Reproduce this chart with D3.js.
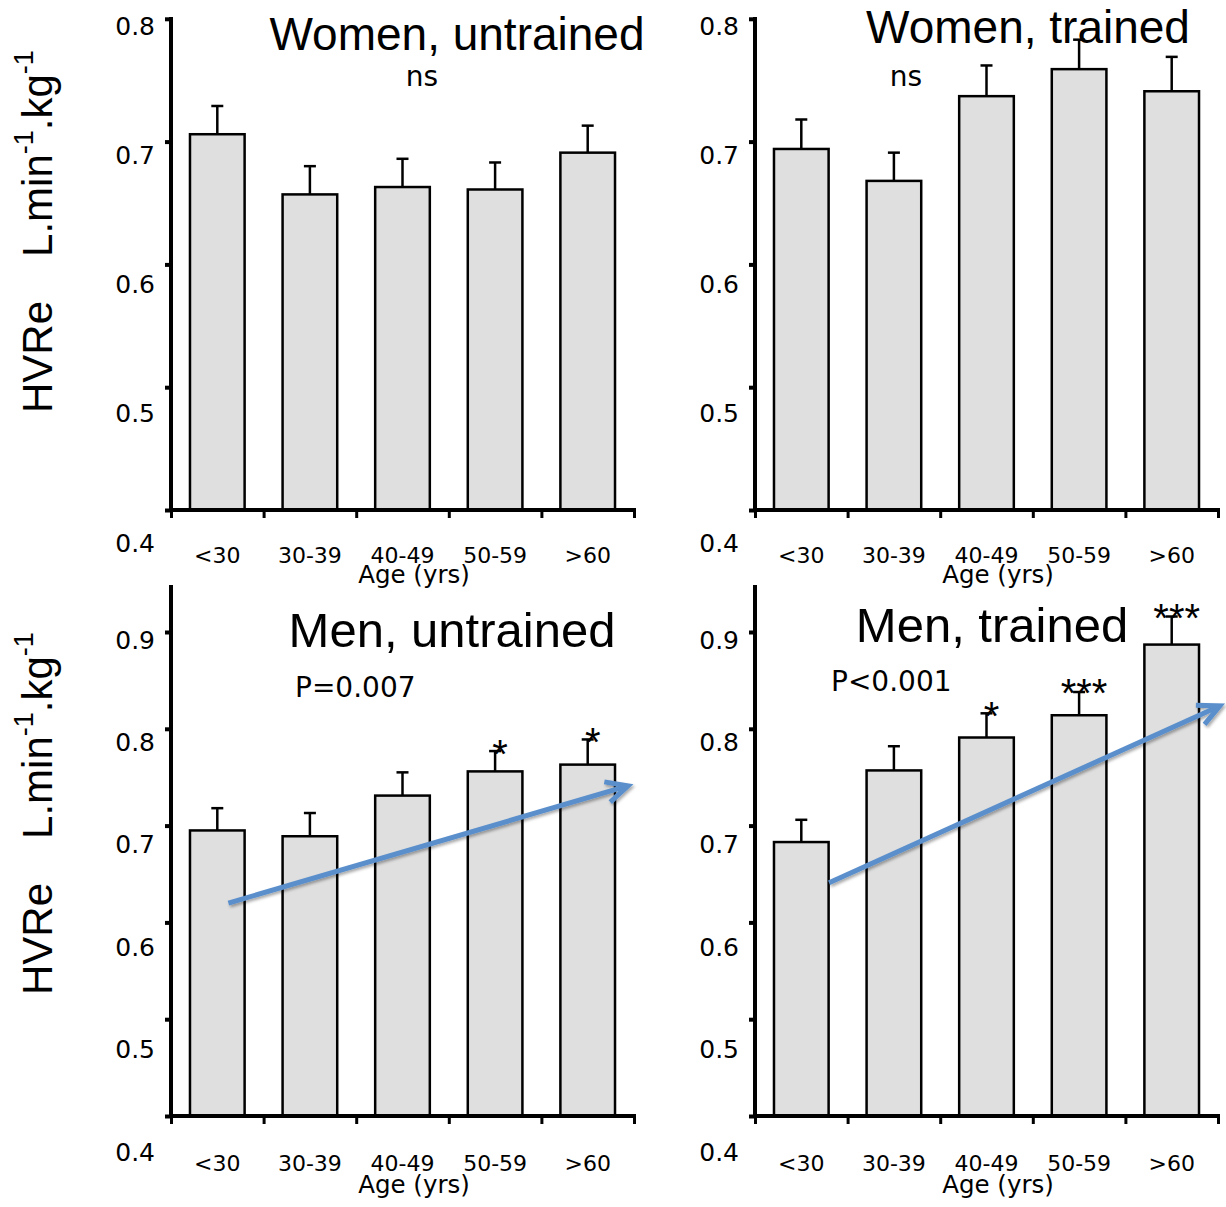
<!DOCTYPE html>
<html><head><meta charset="utf-8">
<script src="https://cdn.jsdelivr.net/npm/d3@7"></script>
<style>body{margin:0;background:#fff} svg{display:block}</style>
</head><body>
<svg id="c" width="1226" height="1207"></svg>
<script>
// ---------- data ----------
const categories = ["<30", "30-39", "40-49", "50-59", ">60"];
const yTicksTop = [0.4, 0.5, 0.6, 0.7, 0.8];
const yTicksBottom = [0.4, 0.5, 0.6, 0.7, 0.8, 0.9];
const panelTitles = ["Women, untrained", "Women, trained", "Men, untrained", "Men, trained"];
const statLabels = ["ns", "ns", "P=0.007", "P<0.001"];
const xAxisTitle = "Age (yrs)";

const womenUntrained    = [0.706, 0.657, 0.663, 0.661, 0.691];
const womenUntrainedErr = [0.023, 0.023, 0.023, 0.022, 0.022];
const womenTrained      = [0.694, 0.668, 0.737, 0.759, 0.741];
const womenTrainedErr   = [0.024, 0.023, 0.025, 0.024, 0.028];
const menUntrained      = [0.695, 0.689, 0.731, 0.756, 0.763];
const menUntrainedErr   = [0.023, 0.024, 0.024, 0.021, 0.026];
const menTrained        = [0.683, 0.757, 0.791, 0.814, 0.887];
const menTrainedErr     = [0.023, 0.025, 0.025, 0.024, 0.029];

const womenUntrainedStars = ["", "", "", "", ""];
const womenTrainedStars   = ["", "", "", "", ""];
const menUntrainedStars   = ["", "", "", "*", "*"];
const menTrainedStars     = ["", "", "*", "***", "***"];

// trend arrows: [category position (0..5), value]
const menUntrainedTrend = [[0.62, 0.620], [4.935, 0.741]];
const menTrainedTrend   = [[0.80, 0.641], [5.02, 0.8236]];

// ---------- layout ----------
const svg = d3.select("#c");
const BLUE = "rgb(90,143,204)";
const defs = svg.append("defs");
const f = defs.append("filter").attr("id", "sh").attr("x", "-20%").attr("y", "-50%").attr("width", "140%").attr("height", "200%");
f.append("feDropShadow").attr("dx", 1.5).attr("dy", 2).attr("stdDeviation", 1.5).attr("flood-color", "#000").attr("flood-opacity", 0.35);

const panels = [
  { x0: 171, base: 510, domain: [0.4, 0.8], top: 18.8, axisTop: 17, ticks: yTicksTop, labelRange: [543, 26],
    values: womenUntrained, err: womenUntrainedErr, stars: womenUntrainedStars, title: panelTitles[0], titleX: 457, titleY: 50, titleSize: 46,
    stat: statLabels[0], statX: 422, statY: 86, statAnchor: "middle", tickLabelY: 53, axisTitleY: 73, trend: null },
  { x0: 755, base: 510, domain: [0.4, 0.8], top: 18.8, axisTop: 17, ticks: yTicksTop, labelRange: [543, 26],
    values: womenTrained, err: womenTrainedErr, stars: womenTrainedStars, title: panelTitles[1], titleX: 1028, titleY: 43, titleSize: 46,
    stat: statLabels[1], statX: 906, statY: 86, statAnchor: "middle", tickLabelY: 53, axisTitleY: 73, trend: null },
  { x0: 171, base: 1116, domain: [0.4, 0.9], top: 632, axisTop: 585, ticks: yTicksBottom, labelRange: [1152, 640],
    values: menUntrained, err: menUntrainedErr, stars: menUntrainedStars, title: panelTitles[2], titleX: 452, titleY: 647, titleSize: 49,
    stat: statLabels[2], statX: 295, statY: 697, statAnchor: "start", tickLabelY: 55, axisTitleY: 77, trend: menUntrainedTrend },
  { x0: 755, base: 1116, domain: [0.4, 0.9], top: 632, axisTop: 585, ticks: yTicksBottom, labelRange: [1152, 640],
    values: menTrained, err: menTrainedErr, stars: menTrainedStars, title: panelTitles[3], titleX: 992, titleY: 642, titleSize: 49,
    stat: statLabels[3], statX: 831, statY: 691, statAnchor: "start", tickLabelY: 55, axisTitleY: 77, trend: menTrainedTrend }
];
const W = 463;
const SANS = "'Liberation Sans', Arial, Helvetica, sans-serif";
const VER = "'DejaVu Sans', Verdana, sans-serif";

function drawPanel(p) {
  const g = svg.append("g");
  const x = d3.scaleBand().domain(categories).range([p.x0, p.x0 + W]).paddingInner(0.41).paddingOuter(0.205);
  const xPos = d3.scaleLinear().domain([0, categories.length]).range([p.x0, p.x0 + W]);
  const y = d3.scaleLinear().domain(p.domain).range([p.base, p.top]);
  const yLab = d3.scaleLinear().domain(p.domain).range(p.labelRange);

  // title
  g.append("text").attr("x", p.titleX).attr("y", p.titleY).attr("text-anchor", "middle")
    .style("font-family", SANS).style("font-size", p.titleSize + "px").attr("fill", "#000").text(p.title);

  // bars
  g.selectAll("rect.bar").data(p.values).join("rect").attr("class", "bar")
    .attr("x", (d, i) => x(categories[i])).attr("y", d => y(d))
    .attr("width", x.bandwidth()).attr("height", d => y(p.domain[0]) - y(d))
    .attr("fill", "#dfdfdf").attr("stroke", "#000").attr("stroke-width", 2.5);

  // error bars
  const eb = g.selectAll("g.err").data(p.values).join("g").attr("class", "err");
  eb.append("line").attr("x1", (d, i) => x(categories[i]) + x.bandwidth() / 2).attr("x2", (d, i) => x(categories[i]) + x.bandwidth() / 2)
    .attr("y1", d => y(d)).attr("y2", (d, i) => y(d + p.err[i])).attr("stroke", "#000").attr("stroke-width", 2.5);
  eb.append("line").attr("x1", (d, i) => x(categories[i]) + x.bandwidth() / 2 - 6).attr("x2", (d, i) => x(categories[i]) + x.bandwidth() / 2 + 6)
    .attr("y1", (d, i) => y(d + p.err[i])).attr("y2", (d, i) => y(d + p.err[i])).attr("stroke", "#000").attr("stroke-width", 2.5);

  // stars
  g.selectAll("text.star").data(p.stars).join("text").attr("class", "star")
    .attr("x", (d, i) => x(categories[i]) + x.bandwidth() / 2 + 5)
    .attr("y", (d, i) => y(p.values[i] + p.err[i]) + (d.length > 1 ? 15 : 17))
    .attr("text-anchor", "middle").style("font-family", SANS).style("font-size", "40px").text(d => d);

  // stat label
  g.append("text").attr("x", p.statX).attr("y", p.statY).attr("text-anchor", p.statAnchor)
    .style("font-family", VER).style("font-size", "28px").text(p.stat);

  // y axis: ticks
  const ya = g.append("g").attr("transform", `translate(${p.x0},0)`)
    .call(d3.axisLeft(y).tickValues(p.ticks).tickSize(6).tickSizeOuter(0).tickFormat(""));
  ya.select(".domain").remove();
  ya.selectAll(".tick line").attr("stroke", "#000").attr("stroke-width", 4);
  g.append("line").attr("x1", p.x0).attr("x2", p.x0).attr("y1", p.axisTop).attr("y2", p.base + 2)
    .attr("stroke", "#000").attr("stroke-width", 4);
  // y axis labels
  const yl = g.append("g").attr("transform", `translate(${p.x0},0)`)
    .call(d3.axisLeft(yLab).tickValues(p.ticks).tickSize(0).tickPadding(16).tickFormat(d3.format(".1f")));
  yl.select(".domain").remove();
  yl.selectAll("text").style("font-family", VER).style("font-size", "25px").attr("fill", "#000");

  // x axis
  const xa = g.append("g").attr("transform", `translate(0,${p.base})`)
    .call(d3.axisBottom(xPos).tickValues(d3.range(categories.length + 1)).tickSize(8).tickSizeOuter(0).tickFormat(""));
  xa.select(".domain").remove();
  xa.selectAll(".tick line").attr("stroke", "#000").attr("stroke-width", 3);
  g.append("line").attr("x1", p.x0 - 2).attr("x2", p.x0 + W + 2).attr("y1", p.base).attr("y2", p.base)
    .attr("stroke", "#000").attr("stroke-width", 4);
  const xl = g.append("g").attr("transform", `translate(0,${p.base})`)
    .call(d3.axisBottom(x).tickSize(0));
  xl.select(".domain").remove();
  xl.selectAll("text").attr("y", p.tickLabelY).attr("dy", null)
    .style("font-family", VER).style("font-size", "22px").attr("fill", "#000");

  g.append("text").attr("x", p.x0 + 243).attr("y", p.base + p.axisTitleY).attr("text-anchor", "middle")
    .style("font-family", VER).style("font-size", "24.5px").text(xAxisTitle);

  // trend arrow
  if (p.trend) {
    const [a, b] = p.trend.map(([cx, v]) => [xPos(cx), y(v)]);
    const ang = Math.atan2(b[1] - a[1], b[0] - a[0]);
    const L = 24, half = 26 * Math.PI / 180;
    const back = ang + Math.PI;
    const h1 = [b[0] + L * Math.cos(back - half), b[1] + L * Math.sin(back - half)];
    const h2 = [b[0] + L * Math.cos(back + half), b[1] + L * Math.sin(back + half)];
    const ag = g.append("g").attr("filter", "url(#sh)");
    ag.append("line").attr("x1", a[0]).attr("y1", a[1]).attr("x2", b[0] - 2 * Math.cos(ang)).attr("y2", b[1] - 2 * Math.sin(ang))
      .attr("stroke", BLUE).attr("stroke-width", 5);
    ag.append("path").attr("d", d3.line()([h1, b, h2])).attr("fill", "none")
      .attr("stroke", BLUE).attr("stroke-width", 5).attr("stroke-linejoin", "miter").attr("stroke-linecap", "butt");
  }
}
panels.forEach(drawPanel);

// y-axis titles
function yTitle(bx, by) {
  const t = svg.append("text").attr("transform", `translate(${bx},${by}) rotate(-90)`)
    .style("font-family", SANS).style("font-size", "42px").attr("fill", "#000");
  t.append("tspan").text("HVRe");
  t.append("tspan").attr("dx", 44).text("L.min");
  t.append("tspan").attr("dy", -19).style("font-size", "27px").text("-1");
  t.append("tspan").attr("dy", 19).text(".kg");
  t.append("tspan").attr("dy", -19).style("font-size", "27px").text("-1");
}
yTitle(52, 413);
yTitle(52, 995);
</script>
</body></html>
